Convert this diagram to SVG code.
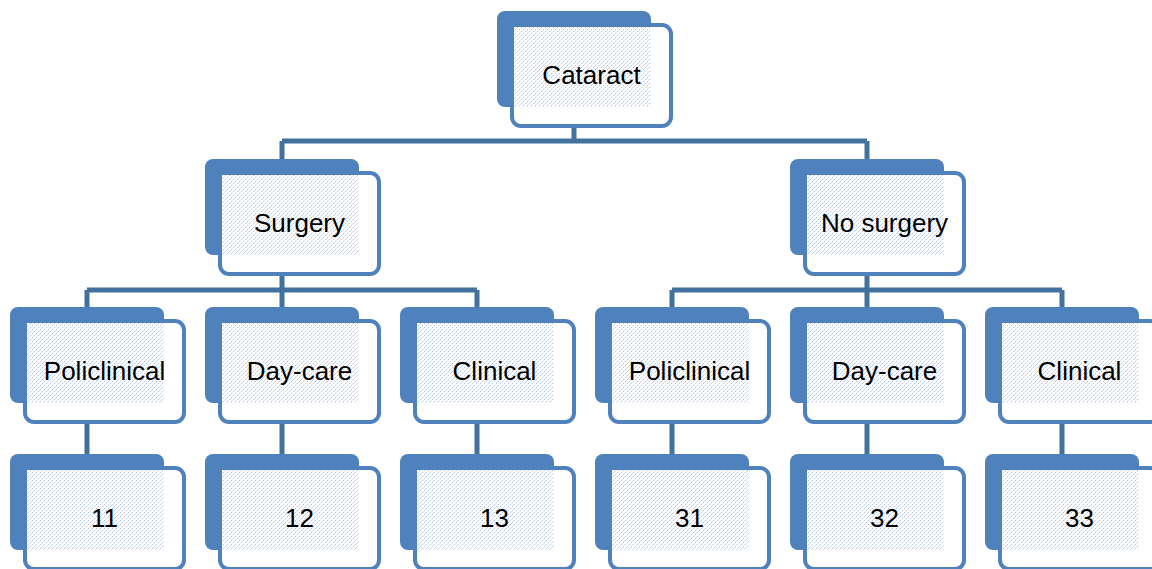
<svg xmlns="http://www.w3.org/2000/svg" width="1152" height="569" viewBox="0 0 1152 569">
<style>
.back{fill:#4f81bd}
.front{fill:#fff;stroke:#4f81bd;stroke-width:4}
.pat{fill:url(#dots)}
.lbl{font-family:"Liberation Sans",Arial,sans-serif;font-size:26px;fill:#000;text-anchor:middle}
.conn{stroke:#41719c;stroke-width:5;fill:none}
</style>
<defs>
<pattern id="dots" width="4" height="4" patternUnits="userSpaceOnUse">
<rect width="4" height="4" fill="#fff"/>
<rect x="0" y="0" width="1" height="1" fill="#b3c8e8"/>
<rect x="2" y="2" width="1" height="1" fill="#b3c8e8"/>
<rect x="1" y="3" width="1" height="1" fill="#dbe5f4"/>
<rect x="3" y="1" width="1" height="1" fill="#dbe5f4"/>
</pattern>
<g id="box">
<rect class="back" x="0" y="0" width="154" height="96" rx="8"/>
<rect class="front" x="15" y="14" width="159" height="101" rx="9"/>
<rect class="pat" x="17" y="16" width="137" height="80"/>
</g>
</defs>
<g id="connectors">
<path class="conn" d="M574 120V141M282 141H867M282 141V165M867 141V165"/>
<path class="conn" d="M282 270V290M87 290H477M87 290V312M282 290V312M477 290V312"/>
<path class="conn" d="M867 270V290M672 290H1062M672 290V312M867 290V312M1062 290V312"/>
<path class="conn" d="M87 420V460M282 420V460M477 420V460M672 420V460M867 420V460M1062 420V460"/>
</g>
<g id="cataract" transform="translate(497,11)"><use href="#box"/><text class="lbl" x="94.5" y="73">Cataract</text></g>
<g id="surgery" transform="translate(205,159)"><use href="#box"/><text class="lbl" x="94.5" y="73">Surgery</text></g>
<g id="nosurgery" transform="translate(790,159)"><use href="#box"/><text class="lbl" x="94.5" y="73">No surgery</text></g>
<g id="s-policlinical" transform="translate(10,307)"><use href="#box"/><text class="lbl" x="94.5" y="73">Policlinical</text></g>
<g id="s-daycare" transform="translate(205,307)"><use href="#box"/><text class="lbl" x="94.5" y="73">Day-care</text></g>
<g id="s-clinical" transform="translate(400,307)"><use href="#box"/><text class="lbl" x="94.5" y="73">Clinical</text></g>
<g id="n-policlinical" transform="translate(595,307)"><use href="#box"/><text class="lbl" x="94.5" y="73">Policlinical</text></g>
<g id="n-daycare" transform="translate(790,307)"><use href="#box"/><text class="lbl" x="94.5" y="73">Day-care</text></g>
<g id="n-clinical" transform="translate(985,307)"><use href="#box"/><text class="lbl" x="94.5" y="73">Clinical</text></g>
<g id="n11" transform="translate(10,454)"><use href="#box"/><text class="lbl" x="94.5" y="73">11</text></g>
<g id="n12" transform="translate(205,454)"><use href="#box"/><text class="lbl" x="94.5" y="73">12</text></g>
<g id="n13" transform="translate(400,454)"><use href="#box"/><text class="lbl" x="94.5" y="73">13</text></g>
<g id="n31" transform="translate(595,454)"><use href="#box"/><text class="lbl" x="94.5" y="73">31</text></g>
<g id="n32" transform="translate(790,454)"><use href="#box"/><text class="lbl" x="94.5" y="73">32</text></g>
<g id="n33" transform="translate(985,454)"><use href="#box"/><text class="lbl" x="94.5" y="73">33</text></g>
</svg>
